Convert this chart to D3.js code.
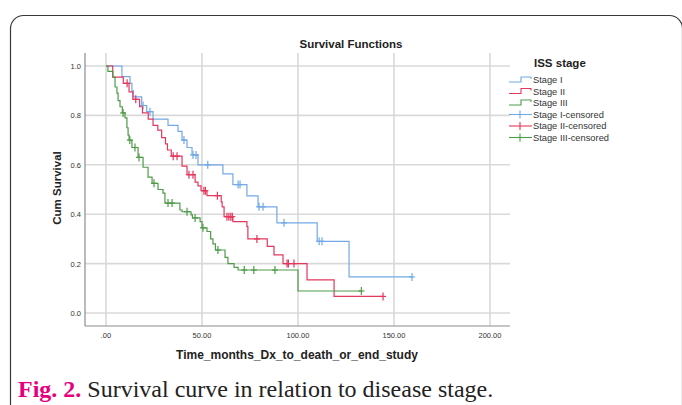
<!DOCTYPE html>
<html lang="en">
<head>
<meta charset="utf-8">
<title>Survival Functions</title>
<script src="https://cdn.jsdelivr.net/npm/d3@7"></script>
<style>
  body { margin: 0; background: #fff; }
  svg { display: block; }
</style>
</head>
<body>
<div id="chart"></div>
<script>
// series: [time of drop, survival after drop]
var stage1Steps = [[8.3,0.957],[12.5,0.93],[13.5,0.90],[14.2,0.875],[18.6,0.84],[21.2,0.815],[24.5,0.785],
  [32.3,0.76],[37.5,0.735],[39.6,0.70],[42.2,0.67],[44.8,0.64],[47.9,0.60],[60.9,0.563],[66.1,0.52],
  [73.4,0.474],[79.2,0.43],[89,0.365],[110,0.29],[126.6,0.146]]
var stage1Censored = [19.3,22.9,40.6,45.3,46.9,53,68.8,69.8,79.7,81.8,92.7,111,112.5,159.4]

var stage2Steps = [[3.5,0.955],[9,0.93],[12,0.895],[14,0.865],[17.5,0.835],[19,0.81],[22,0.785],[24.5,0.76],
  [27,0.74],[29,0.71],[31,0.685],[32,0.66],[34,0.635],[39.6,0.595],[42.2,0.56],[46.4,0.53],[47.9,0.515],
  [49.5,0.495],[52.6,0.475],[60,0.45],[60.5,0.43],[61.5,0.39],[66.1,0.37],[73.4,0.35],[73.9,0.30],
  [84,0.27],[87.5,0.235],[92.2,0.20],[104.7,0.134],[118.8,0.067]]
var stage2Censored = [11,15.5,35,37,43.2,45.3,51,51.8,58,63,64,65,65.8,78.6,94.3,95,97.9,144.3]

var stage3Steps = [[1,0.978],[3.6,0.955],[4.7,0.915],[5.7,0.89],[6.3,0.86],[7.3,0.835],[8.5,0.81],[9.9,0.79],
  [10.9,0.75],[11.5,0.72],[12,0.70],[13.5,0.67],[16.7,0.63],[19.3,0.59],[21.9,0.55],[24,0.525],[27.1,0.50],
  [29.7,0.485],[30.7,0.445],[38.5,0.417],[39.6,0.41],[44.3,0.397],[45,0.385],[49,0.37],[50,0.345],
  [52.6,0.33],[54.5,0.30],[55.7,0.28],[57,0.255],[62,0.225],[63.5,0.20],[66.7,0.185],[68.8,0.174],[100,0.089]]
var stage3Censored = [8.9,12.4,15.1,17.2,25,32.3,34.4,42.2,46.4,50.5,58.3,72,77,88,133]

var legendLabels = ["Stage I","Stage II","Stage III","Stage I-censored","Stage II-censored","Stage III-censored"]
var colors = ["#72a9e6","#e3375d","#4e9b48"]
var xTicks = [0,50,100,150,200]
var yTicks = [0,0.2,0.4,0.6,0.8,1.0]

var width = 682, height = 405
var svg = d3.select("#chart").append("svg")
  .attr("width", width)
  .attr("height", height)

// card border
svg.append("rect")
  .attr("x", 10.5).attr("y", 15.5)
  .attr("width", 672).attr("height", 430)
  .attr("rx", 13)
  .attr("fill", "#fff")
  .attr("stroke", "#3a3a3a")
  .attr("stroke-width", 1.2)

var x = d3.scaleLinear().domain([0, 200]).range([106, 490])
var y = d3.scaleLinear().domain([0, 1]).range([313, 66])
var plotL = 85, plotR = 510, plotT = 53, plotB = 326
var font = "'Liberation Sans', Arial, sans-serif"

// grid
svg.append("g").selectAll("line").data(yTicks).enter().append("line")
  .attr("x1", plotL).attr("x2", plotR)
  .attr("y1", function(d){ return y(d) }).attr("y2", function(d){ return y(d) })
  .attr("stroke", "#d9d9d9").attr("stroke-width", 1.6)
svg.append("g").selectAll("line").data(xTicks).enter().append("line")
  .attr("y1", plotT).attr("y2", plotB)
  .attr("x1", function(d){ return x(d) }).attr("x2", function(d){ return x(d) })
  .attr("stroke", "#d9d9d9").attr("stroke-width", 1.6)

// axis lines
svg.append("line").attr("x1", plotL).attr("x2", plotL).attr("y1", plotT).attr("y2", plotB)
  .attr("stroke", "#8c8c8c").attr("stroke-width", 1.2)
svg.append("line").attr("x1", plotL).attr("x2", plotR).attr("y1", plotB).attr("y2", plotB)
  .attr("stroke", "#8c8c8c").attr("stroke-width", 1.2)

// tick labels
svg.append("g").selectAll("text").data(yTicks).enter().append("text")
  .attr("x", 81).attr("y", function(d){ return y(d) + 3 })
  .attr("text-anchor", "end")
  .style("font", "7.5px " + font).attr("fill", "#333")
  .text(function(d){ return d3.format(".1f")(d) })
svg.append("g").selectAll("text").data(xTicks).enter().append("text")
  .attr("x", function(d){ return x(d) }).attr("y", 338)
  .attr("text-anchor", "middle")
  .style("font", "7.5px " + font).attr("fill", "#333")
  .text(function(d){ return d === 0 ? ".00" : d3.format(".2f")(d) })

// titles
svg.append("text").attr("x", 351).attr("y", 48).attr("text-anchor", "middle")
  .style("font", "bold 11.5px " + font).attr("fill", "#222").text("Survival Functions")
svg.append("text").attr("transform", "translate(61,188) rotate(-90)").attr("text-anchor", "middle")
  .style("font", "bold 11.5px " + font).attr("fill", "#222").text("Cum Survival")
svg.append("text").attr("x", 297).attr("y", 359).attr("text-anchor", "middle")
  .style("font", "bold 12px " + font).attr("fill", "#222").text("Time_months_Dx_to_death_or_end_study")

// survival curves
var series = [
  {steps: stage1Steps, censored: stage1Censored},
  {steps: stage2Steps, censored: stage2Censored},
  {steps: stage3Steps, censored: stage3Censored}
]

function survAt(steps, t) {
  var s = 1
  steps.forEach(function(p){ if (p[0] <= t) s = p[1] })
  return s
}

var line = d3.line()
  .x(function(d){ return x(d[0]) })
  .y(function(d){ return y(d[1]) })
  .curve(d3.curveStepAfter)

series.forEach(function(sr, i) {
  var tEnd = d3.max([d3.max(sr.censored), d3.max(sr.steps, function(d){ return d[0] })])
  var pts = [[0, 1]].concat(sr.steps)
  pts.push([tEnd, sr.steps[sr.steps.length - 1][1]])
  svg.append("path")
    .datum(pts)
    .attr("d", line)
    .attr("fill", "none")
    .attr("stroke", colors[i])
    .attr("stroke-width", 1.2)

  // censor ticks
  svg.append("g").selectAll("line").data(sr.censored).enter().append("line")
    .attr("x1", function(d){ return x(d) }).attr("x2", function(d){ return x(d) })
    .attr("y1", function(d){ return y(survAt(sr.steps, d)) - 4 })
    .attr("y2", function(d){ return y(survAt(sr.steps, d)) + 4 })
    .attr("stroke", colors[i]).attr("stroke-width", 1.2)
  svg.append("g").selectAll("line").data(sr.censored).enter().append("line")
    .attr("x1", function(d){ return x(d) - 3 }).attr("x2", function(d){ return x(d) + 3 })
    .attr("y1", function(d){ return y(survAt(sr.steps, d)) })
    .attr("y2", function(d){ return y(survAt(sr.steps, d)) })
    .attr("stroke", colors[i]).attr("stroke-width", 1.2)
})

// legend
svg.append("text").attr("x", 534).attr("y", 67)
  .style("font", "bold 11.5px " + font).attr("fill", "#222").text("ISS stage")

var legendY = [80, 91.5, 103, 114.5, 126, 137.5]
legendLabels.forEach(function(label, i) {
  var ly = legendY[i], c = colors[i % 3]
  if (i < 3) {
    svg.append("path")
      .attr("d", "M509," + (ly + 2) + "H521V" + (ly - 3) + "H531V" + (ly - 1))
      .attr("fill", "none").attr("stroke", c).attr("stroke-width", 1.1)
  } else {
    svg.append("line").attr("x1", 509).attr("x2", 532).attr("y1", ly).attr("y2", ly)
      .attr("stroke", c).attr("stroke-width", 1.1)
    svg.append("line").attr("x1", 520).attr("x2", 520).attr("y1", ly - 4).attr("y2", ly + 4)
      .attr("stroke", c).attr("stroke-width", 1.1)
  }
  svg.append("text").attr("x", 533).attr("y", ly + 3)
    .style("font", "9.3px " + font).attr("fill", "#333").text(label)
})

// caption
var cap = svg.append("text").attr("x", 18).attr("y", 397)
  .style("font-family", "'Liberation Serif', 'Times New Roman', serif").style("font-size", "24px")
cap.append("tspan").attr("fill", "#e6007e").style("font-weight", "bold").text("Fig. 2.")
cap.append("tspan").attr("fill", "#222").text(" Survival curve in relation to disease stage.")
</script>
</body>
</html>
